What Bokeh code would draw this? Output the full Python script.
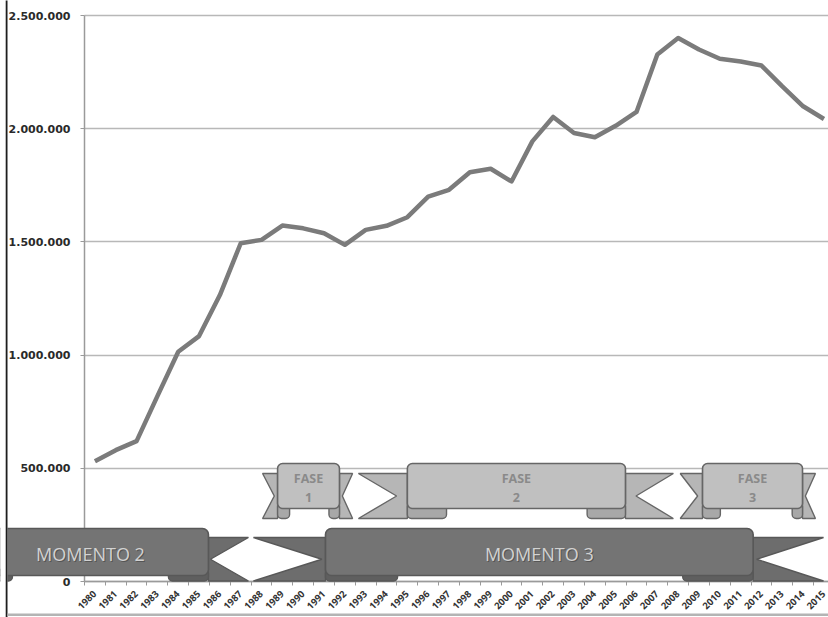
from bokeh.plotting import figure
from bokeh.models import FixedTicker, BoxAnnotation, PolyAnnotation, Label, Grid
from bokeh.embed import file_html
from bokeh.resources import INLINE
import math

# ---- series -------------------------------------------------------------
years = list(range(1980, 2016))
values = [531000, 580000, 620000, 819000, 1015000, 1084000, 1265000, 1494000,
          1509000, 1572000, 1560000, 1538000, 1487000, 1553000, 1571000, 1609000,
          1700000, 1730000, 1808000, 1823000, 1767000, 1944000, 2052000, 1981000,
          1962000, 2013000, 2074000, 2328000, 2401000, 2350000, 2309000, 2297000,
          2279000, 2187000, 2099000, 2043000]

y_ticks = [0, 500000, 1000000, 1500000, 2000000, 2500000]
y_tick_labels = ["0", "500.000", "1.000.000", "1.500.000", "2.000.000", "2.500.000"]

# ---- period ribbons (years covered: tail start, body start, body end, tail end)
fase_labels = ["FASE\n1", "FASE\n2", "FASE\n3"]
fase_tail_start = [1988.05, 1992.65, 2008.10]
fase_body_start = [1988.77, 1995.00, 2009.17]
fase_body_end = [1991.74, 2005.47, 2013.97]
fase_tail_end = [1992.37, 2007.77, 2014.59]

momento_labels = ["MOMENTO 2", "MOMENTO 3"]
momento_tail_start = [1972.20, 1987.61]
momento_body_start = [1974.12, 1991.07]
momento_body_end = [1985.45, 2011.60]
momento_tail_end = [1987.37, 2014.98]

# ---- geometry -------------------------------------------------------------
W, H = 828, 617
AXIS_X, ZERO_Y, TOP_Y = 84, 581, 15          # pixel positions of the axes box
X0 = 1979.5                                  # left edge of the category axis
PX_PER_YEAR = 20.83
VAL_PER_PX = 2500000 / (ZERO_Y - TOP_Y)
X1 = X0 + (W - AXIS_X) / PX_PER_YEAR


def px(n):
    """Vertical pixel distance expressed in data units."""
    return n * VAL_PER_PX


def pxx(n):
    """Horizontal pixel distance expressed in years."""
    return n / PX_PER_YEAR


# the frame covers the whole canvas; both axes sit at fixed data locations
p = figure(width=W, height=H, output_backend="svg", toolbar_location=None,
           x_range=(X0 - pxx(AXIS_X), X1),
           y_range=(-px(H - ZERO_Y), 2500000 + px(TOP_Y)),
           min_border=0)
p.outline_line_color = None
p.background_fill_color = "white"
p.border_fill_color = "white"

# x axis (categories between minor ticks)
p.xaxis.fixed_location = 0
p.xaxis.bounds = (X0, X1)
p.xaxis.ticker = FixedTicker(ticks=years, minor_ticks=[y - 0.5 for y in years] + [years[-1] + 0.5])
p.xaxis.major_label_overrides = {y: str(y) for y in years}
p.xaxis.major_label_orientation = math.pi / 4
p.xaxis.major_label_text_font = "Open Sans"
p.xaxis.major_label_text_font_style = "bold"
p.xaxis.major_label_text_font_size = "9.5px"
p.xaxis.major_label_text_color = "#333333"
p.xaxis.major_label_standoff = 5
p.xaxis.major_tick_line_color = None
p.xaxis.minor_tick_line_color = "#9a9a9a"
p.xaxis.minor_tick_out = 4
p.xaxis.minor_tick_in = 0
p.xaxis.axis_line_color = "#9a9a9a"
p.xaxis.axis_line_width = 1.5

# y axis
p.yaxis.fixed_location = X0
p.yaxis.bounds = (0, 2500000)
p.yaxis.ticker = FixedTicker(ticks=y_ticks)
p.yaxis.major_label_overrides = dict(zip(y_ticks, y_tick_labels))
p.yaxis.major_label_text_font = "DejaVu Sans"
p.yaxis.major_label_text_font_style = "bold"
p.yaxis.major_label_text_font_size = "11px"
p.yaxis.major_label_text_color = "#2a2a2a"
p.yaxis.major_label_standoff = 10
p.yaxis.major_tick_out = 4
p.yaxis.major_tick_in = 0
p.yaxis.major_tick_line_color = "#9a9a9a"
p.yaxis.minor_tick_line_color = None
p.yaxis.axis_line_color = "#9a9a9a"
p.yaxis.axis_line_width = 1.5

p.xgrid.grid_line_color = None
if "cross_bounds" in Grid.properties():
    p.ygrid.cross_bounds = (X0, X1)
    p.ygrid.grid_line_color = "#b8b8b8"
    p.ygrid.grid_line_width = 1.6
else:
    p.ygrid.grid_line_color = None
    p.segment(x0=X0, x1=X1, y0=y_ticks, y1=y_ticks,
              line_color="#b8b8b8", line_width=1.6, level="underlay")

# series line
p.line(years, values, line_color="#7b7b7b", line_width=4.5, line_join="round")


def ribbon(ts, bs, be, te, label, body_top, body_bot, tail_top, tail_bot,
           notch_frac, fold_frac, body_fill, tail_fill, fold_fill, edge,
           text_color, text_font, text_size, text_style, radius, shadow=None):
    tail_mid = (tail_top + tail_bot) / 2
    lw = bs - ts
    rw = te - be
    stroke = dict(line_color=edge, line_alpha=1, line_width=1.4)
    # tails behind the body
    p.add_layout(PolyAnnotation(
        xs=[ts, bs, bs, ts, ts + notch_frac * lw],
        ys=[tail_top, tail_top, tail_bot, tail_bot, tail_mid],
        fill_color=tail_fill, fill_alpha=1, **stroke))
    p.add_layout(PolyAnnotation(
        xs=[be, te, te - notch_frac * rw, te, be],
        ys=[tail_top, tail_top, tail_mid, tail_bot, tail_bot],
        fill_color=tail_fill, fill_alpha=1, **stroke))
    # curled folds under the body ends
    for l, r in ((bs, bs + fold_frac * lw), (be - fold_frac * rw, be)):
        p.add_layout(BoxAnnotation(
            left=l, right=r, top=body_bot + px(6), bottom=tail_bot,
            fill_color=fold_fill, fill_alpha=1, border_radius=4, **stroke))
    # body
    p.add_layout(BoxAnnotation(
        left=bs, right=be, top=body_top, bottom=body_bot,
        fill_color=body_fill, fill_alpha=1, border_radius=radius,
        line_color=edge, line_alpha=1, line_width=1.6))
    cx, cy = (bs + be) / 2, (body_top + body_bot) / 2 - px(2)
    text_style_args = dict(text_align="center", text_baseline="middle",
                           text_font=text_font, text_font_size=text_size,
                           text_font_style=text_style, text_line_height=1.15)
    if shadow:
        p.add_layout(Label(x=cx + pxx(1), y=cy - px(1), text=label,
                           text_color=shadow, **text_style_args))
    p.add_layout(Label(x=cx, y=cy, text=label, text_color=text_color,
                       **text_style_args))


# lower ribbons
for i, lab in enumerate(momento_labels):
    ribbon(momento_tail_start[i], momento_body_start[i], momento_body_end[i],
           momento_tail_end[i], lab,
           body_top=px(ZERO_Y - 528), body_bot=px(ZERO_Y - 575),
           tail_top=px(ZERO_Y - 537), tail_bot=px(ZERO_Y - 580.5),
           notch_frac=0.95, fold_frac=1.0,
           body_fill="#747474", tail_fill="#6d6d6d", fold_fill="#5f5f5f",
           edge="#585858", text_color="#d2d2d2", text_font="Open Sans",
           text_size="18px", text_style="normal", radius=6, shadow="#555555")

# upper ribbons
for i, lab in enumerate(fase_labels):
    ribbon(fase_tail_start[i], fase_body_start[i], fase_body_end[i],
           fase_tail_end[i], lab,
           body_top=px(ZERO_Y - 463), body_bot=px(ZERO_Y - 508),
           tail_top=px(ZERO_Y - 473), tail_bot=px(ZERO_Y - 518),
           notch_frac=0.78, fold_frac=0.8,
           body_fill="#c0c0c0", tail_fill="#b6b6b6", fold_fill="#a8a8a8",
           edge="#666666", text_color="#8a8a8a", text_font="Open Sans",
           text_size="12.5px", text_style="bold", radius=5)

# chart border: white margin left of the frame line, dark left edge, light bottom edge
x_edge = X0 - pxx(AXIS_X - 7)
y_low, y_high = -px(H - ZERO_Y + 5), 2500000 + px(TOP_Y + 5)
p.add_layout(BoxAnnotation(left=X0 - pxx(AXIS_X + 50), right=x_edge,
                           top=y_high, bottom=y_low,
                           fill_color="white", fill_alpha=1, line_color=None))
p.add_layout(BoxAnnotation(left=x_edge - pxx(1.8), right=x_edge,
                           top=y_high, bottom=y_low,
                           fill_color="#1e1e1e", fill_alpha=1, line_color=None))
p.add_layout(BoxAnnotation(left=x_edge, right=X1 + 1,
                           top=-px(613 - ZERO_Y), bottom=-px(615.5 - ZERO_Y),
                           fill_color="#b4b4b4", fill_alpha=1, line_color=None))

open("out.html", "w").write(file_html(p, INLINE))
